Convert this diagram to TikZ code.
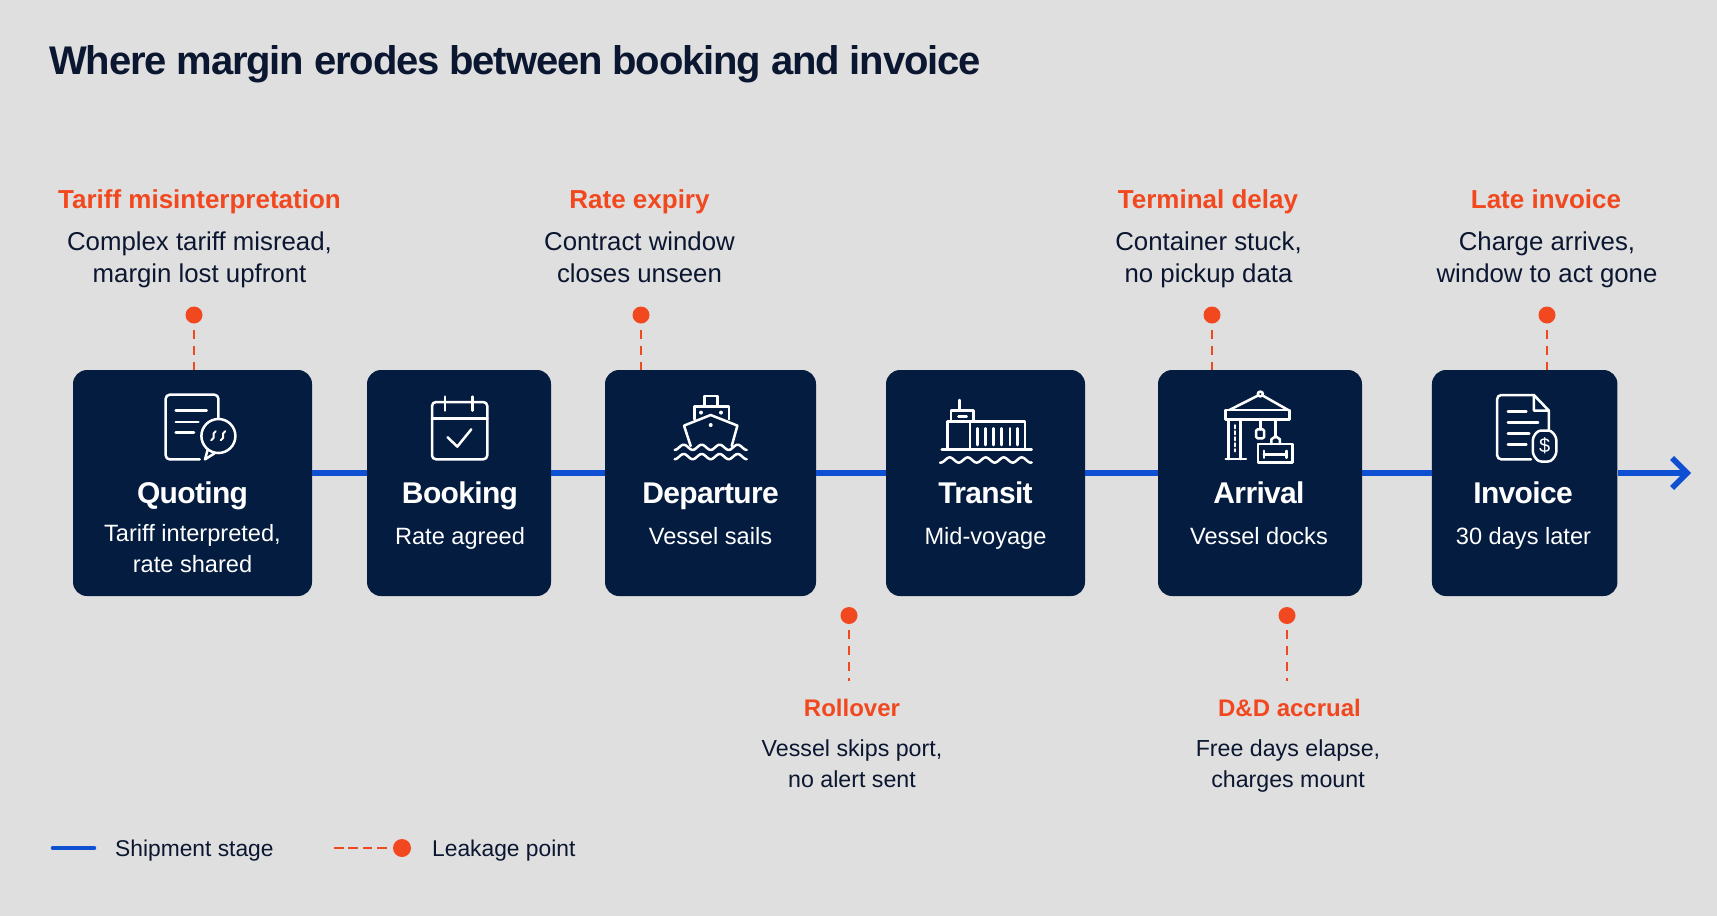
\documentclass[tikz,border=0pt]{standalone}
\usepackage{fontspec}
\setmainfont{Liberation Sans}
\newfontfamily\titlefont[LetterSpace=-2.9]{Liberation Sans}
\newfontfamily\namefont[LetterSpace=-2.2]{Liberation Sans}
\usetikzlibrary{arrows.meta}
\definecolor{pagegray}{HTML}{DFDFDF}
\definecolor{navy}{HTML}{041C40}
\definecolor{routeblue}{HTML}{0F4FD2}
\definecolor{leakred}{HTML}{F2481F}
\definecolor{inkdark}{HTML}{0B1630}
\tikzset{
  iconline/.style={draw=white, line width=2.5pt, line join=round, line cap=round},
  quotingicon/.pic={
    \draw[iconline, rounded corners=4pt] (17.7,-8) -- (17.7,-32) -- (-35,-32) -- (-35,32.7) -- (-1,32.7);
    \draw[iconline] (-25,-16) -- (6,-16) (-25,-4.7) -- (-2.3,-4.7) (-25,6) -- (-6.7,6);
    \draw[iconline] (17.7,9.3) circle[radius=17];
    \draw[iconline] (7,23) -- (4.3,32.7) -- (14,26.5);
    \draw[iconline, line width=2pt] (15,4.5) .. controls (10,7) and (16,11) .. (10.5,13.5);
    \draw[iconline, line width=2pt] (24.5,4.5) .. controls (19.5,7) and (25.5,11) .. (20,13.5);
  },
  bookingicon/.pic={
    \draw[iconline, rounded corners=4pt] (-27.3,-26.3) rectangle (28,31);
    \draw[iconline] (-27.3,-10) -- (28,-10);
    \draw[iconline] (-14.3,-31.7) -- (-14.3,-17.7) (13,-31.7) -- (13,-17.7);
    \draw[iconline] (-11.7,9) -- (-2,18.3) -- (12,1);
  },
  departureicon/.pic={
    \draw[iconline] (-6.3,-21.7) -- (-6.3,-32.3) -- (6.7,-32.3) -- (6.7,-21.7);
    \draw[iconline] (-16.3,-9) -- (-16.3,-21.7) -- (18.3,-21.7) -- (18.3,-9);
    \fill[white] (-9.7,-15.7) circle[radius=2] (10.3,-15.7) circle[radius=2] (0,-3.3) circle[radius=2];
    \draw[iconline] (-20,17.7) -- (-26.7,-2.7) -- (0,-13.3) -- (26.7,-2.7) -- (21,17.7);
    \draw[iconline] plot[domain=-36:36, samples=61] (\x,{19+2.6*sin(20*\x+90)});
    \draw[iconline] plot[domain=-36:36, samples=61] (\x,{28.3+2.6*sin(20*\x+90)});
  },
  transiticon/.pic={
    \draw[iconline] (-26.3,-28.3) -- (-26.3,-17.7);
    \draw[iconline] (-34.7,-6.7) -- (-34.7,-17.7) -- (-12.3,-17.7) -- (-12.3,-6.7);
    \draw[iconline] (-38.3,21) -- (-38.3,-6.7) -- (-15.7,-6.7) -- (-15.7,21);
    \draw[iconline] (-27.3,-11.7) -- (-19,-11.7);
    \draw[iconline] (-15.7,-6.7) rectangle (39.3,21);
    \draw[iconline] (-8.3,0) -- (-8.3,16.7) (-0.3,0) -- (-0.3,16.7) (7.7,0) -- (7.7,16.7)
      (16,0) -- (16,16.7) (24.3,0) -- (24.3,16.7) (32,0) -- (32,16.7);
    \draw[iconline] (-44,21) -- (46,21);
    \draw[iconline] plot[domain=-45.7:46, samples=81] (\x,{31.7+2.6*sin(20*\x-90)});
  },
  arrivalicon/.pic={
    \draw[iconline] (-28.3,-18.3) -- (-1,-33) (2.4,-33) -- (26.7,-18.3);
    \draw[iconline] (0.7,-34.3) circle[radius=2.4];
    \draw[iconline] (-31.7,-18.3) rectangle (27.7,-9);
    \draw[iconline] (-29,-9) -- (-29,30.7) (-17.7,-9) -- (-17.7,30.7) (-31.7,30.7) -- (-12.7,30.7);
    \draw[iconline, dashed] (-22.8,-3) -- (-22.8,23);
    \draw[iconline] (0.7,-9) -- (0.7,1) (15,-9) -- (15,9);
    \draw[iconline, rounded corners=1.5pt] (-3.3,1) rectangle (4.3,10);
    \draw[iconline] (11,15.7) -- (11,11) -- (15,8) -- (19,11) -- (19,15.7);
    \draw[iconline] (-1.7,15.7) rectangle (30.7,34.3);
    \draw[iconline] (4,26) -- (25,26) (4,22.5) -- (4,29.5) (25,22.5) -- (25,29.5);
  },
  invoiceicon/.pic={
    \draw[iconline, rounded corners=4pt] (4.3,31) -- (-27.3,31) -- (-27.3,-33.3) -- (7,-33.3);
    \draw[iconline] (7,-33.3) -- (21,-17.7) -- (21,2.3) (7,-33.3) -- (7,-17.7) -- (21,-17.7);
    \draw[iconline] (-17.3,-16.7) -- (0,-16.7) (-17.3,-6) -- (11,-6) (-17.3,5) -- (2.7,5) (-17.3,16) -- (0,16);
    \draw[iconline, rounded corners=3pt] (11,2.2) -- (23,2.2) -- (28,9) -- (28,26) -- (23,33.2) -- (11,33.2) -- (6,26) -- (6,9) -- cycle;
    \node[text=white, font=\fontsize{20}{20}\selectfont, inner sep=0pt] (dollar) at (17,17.7) {\$};
  }
}

\begin{document}
\begin{tikzpicture}[
    x=1pt, y=-1pt,
    stagebox/.style={fill=navy, rounded corners=14pt, minimum height=226pt, inner sep=0pt},
    stagename/.style={anchor=base, text=white, inner sep=0pt, font=\namefont\bfseries\fontsize{30}{31}\selectfont},
    stagesub/.style={anchor=north, text=white, inner sep=0pt, align=center, font=\fontsize{23.6}{31}\selectfont},
    stageline/.style={draw=routeblue, line width=5.6pt},
    leakdot/.style={circle, fill=leakred, minimum size=17pt, inner sep=0pt},
    leakline/.style={draw=leakred, line width=2.5pt, dash pattern=on 9pt off 7pt},
    leakname/.style={anchor=base, text=leakred, inner sep=0pt, font=\bfseries\fontsize{26}{31}\selectfont},
    leakdesc/.style={anchor=north, text=inkdark, inner sep=0pt, align=center, font=\fontsize{25.8}{31.7}\selectfont},
    lowname/.style={leakname, font=\bfseries\fontsize{24}{31}\selectfont},
    lowdesc/.style={leakdesc, font=\fontsize{23.2}{31.7}\selectfont},
    legendtext/.style={anchor=base west, text=inkdark, inner sep=0pt, font=\fontsize{22.8}{26}\selectfont}
  ]
  \fill[pagegray] (0,0) rectangle (1717,916);
  \node[anchor=base west, text=inkdark, inner sep=0pt, font=\titlefont\bfseries\fontsize{40}{44}\selectfont] (title) at (49,74)
    {Where margin erodes between booking and invoice};

  \coordinate (spine) at (0,473);
  \coordinate (routeend) at (1691,473);

  % stages
  \node[stagebox, minimum width=239pt] (quoting) at (192.5,483) {};
  \node[stagebox, minimum width=184pt] (booking) at (459,483) {};
  \node[stagebox, minimum width=211pt] (departure) at (710.5,483) {};
  \node[stagebox, minimum width=199pt] (transit) at (985.5,483) {};
  \node[stagebox, minimum width=204pt] (arrival) at (1260,483) {};
  \node[stagebox, minimum width=185.5pt] (invoice) at (1524.7,483) {};

  \pic at (200.7,426.7) {quotingicon};
  \pic at (459.3,428.3) {bookingicon};
  \pic at (710.7,428.3) {departureicon};
  \pic at (985.7,428.3) {transiticon};
  \pic[xscale=1.07] at (1259.6,428.3) {arrivalicon};
  \pic[xscale=1.07] at (1526.4,428.3) {invoiceicon};

  \node[stagename] (quotingname) at (192.5,503) {Quoting};
  \node[stagename] (bookingname) at (460,503) {Booking};
  \node[stagename] (departurename) at (710.5,503) {Departure};
  \node[stagename] (transitname) at (985.5,503) {Transit};
  \node[stagename] (arrivalname) at (1259,503) {Arrival};
  \node[stagename] (invoicename) at (1523,503) {Invoice};

  \node[stagesub] (quotingsub) at (192.5,524.5) {Tariff interpreted,\\rate shared};
  \node[stagesub] (bookingsub) at (460,527) {Rate agreed};
  \node[stagesub] (departuresub) at (710.5,527) {Vessel sails};
  \node[stagesub] (transitsub) at (985.5,527) {Mid-voyage};
  \node[stagesub] (arrivalsub) at (1259,527) {Vessel docks};
  \node[stagesub] (invoicesub) at (1523.5,527) {30 days later};

  % route
  \draw[stageline] (quoting.east |- spine) -- (booking.west |- spine);
  \draw[stageline] (booking.east |- spine) -- (departure.west |- spine);
  \draw[stageline] (departure.east |- spine) -- (transit.west |- spine);
  \draw[stageline] (transit.east |- spine) -- (arrival.west |- spine);
  \draw[stageline] (arrival.east |- spine) -- (invoice.west |- spine);
  \draw[stageline, -{Straight Barb[length=15pt, width=30pt, line width=5.6pt]}] (invoice.east |- spine) -- (routeend);

  % leakage above
  \node[leakdot] (tariffdot) at (194,315) {};
  \node[leakdot] (expirydot) at (641,315) {};
  \node[leakdot] (terminaldot) at (1212,315) {};
  \node[leakdot] (latedot) at (1547,315) {};
  \draw[leakline, dash phase=-6pt] (tariffdot) -- (tariffdot |- quoting.north);
  \draw[leakline, dash phase=-6pt] (expirydot) -- (expirydot |- departure.north);
  \draw[leakline, dash phase=-6pt] (terminaldot) -- (terminaldot |- arrival.north);
  \draw[leakline, dash phase=-6pt] (latedot) -- (latedot |- invoice.north);

  \node[leakname] (tariffname) at (199.5,208) {Tariff misinterpretation};
  \node[leakname] (expiryname) at (639.5,208) {Rate expiry};
  \node[leakname] (terminalname) at (1208,208) {Terminal delay};
  \node[leakname] (latename) at (1546,208) {Late invoice};
  \node[leakdesc] (tariffdesc) at (199.5,231.5) {Complex tariff misread,\\margin lost upfront};
  \node[leakdesc] (expirydesc) at (639.5,231.5) {Contract window\\closes unseen};
  \node[leakdesc] (terminaldesc) at (1208.5,231.5) {Container stuck,\\no pickup data};
  \node[leakdesc] (latedesc) at (1547,231.5) {Charge arrives,\\window to act gone};

  % leakage below
  \node[leakdot] (rolloverdot) at (849,615.5) {};
  \node[leakdot] (accrualdot) at (1287,615.5) {};
  \coordinate (rolloverend) at (849,681);
  \coordinate (accrualend) at (1287,681);
  \draw[leakline, dash phase=-6pt] (rolloverdot) -- (rolloverend);
  \draw[leakline, dash phase=-6pt] (accrualdot) -- (accrualend);

  \node[lowname] (rollovername) at (852,716) {Rollover};
  \node[lowname] (accrualname) at (1289.5,716) {D\&D accrual};
  \node[lowdesc] (rolloverdesc) at (852,739) {Vessel skips port,\\no alert sent};
  \node[lowdesc] (accrualdesc) at (1288,739) {Free days elapse,\\charges mount};

  % legend
  \coordinate (stagekeya) at (53,848);
  \coordinate (stagekeyb) at (94,848);
  \coordinate (leakkeya) at (334,848);
  \draw[stageline, line width=4.6pt, line cap=round] (stagekeya) -- (stagekeyb);
  \node[leakdot, minimum size=18pt] (leakkey) at (402,848) {};
  \draw[leakline, line width=2.7pt, dash pattern=on 9.5pt off 4.9pt, shorten >=6pt] (leakkeya) -- (leakkey);
  \node[legendtext] (stagelabel) at (115,856) {Shipment stage};
  \node[legendtext] (leaklabel) at (432,856) {Leakage point};
\end{tikzpicture}
\end{document}
